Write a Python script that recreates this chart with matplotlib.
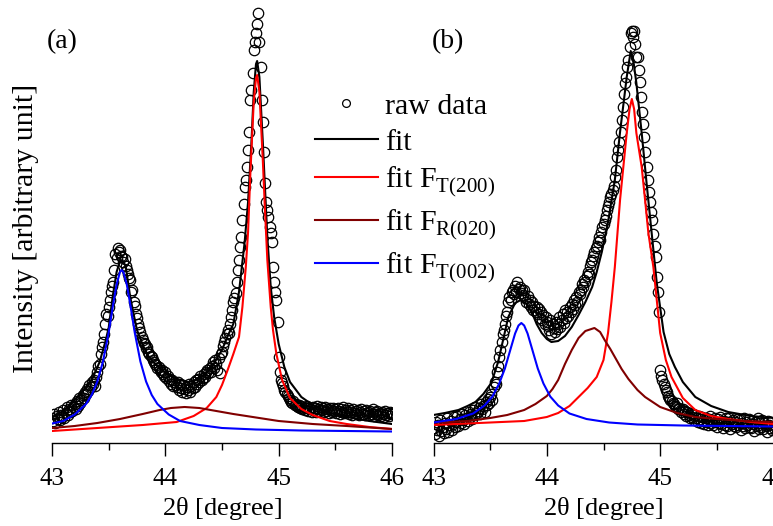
import numpy as np
import matplotlib.pyplot as plt
from matplotlib.ticker import MultipleLocator

plt.rcParams['font.family'] = 'Liberation Serif'
plt.rcParams['mathtext.fontset'] = 'custom'
plt.rcParams['mathtext.rm'] = 'Liberation Serif'

# XRD scan: 2theta from 43 to 46 deg, 0.01 deg step (intensity in arbitrary units)
theta_start = 43.0
theta_step = 0.01

raw_a = [
    24, 21, 28, 19, 26, 23, 30, 22, 27, 25,
    32, 24, 29, 35, 27, 33, 30, 37, 31, 35,
    38, 33, 41, 36, 44, 39, 42, 47, 44, 50,
    48, 53, 51, 57, 55, 60, 58, 62, 56, 65,
    70, 76, 78, 88, 95, 100, 108, 118, 128, 126,
    135, 142, 150, 156, 160, 172, 188, 184, 194, 190,
    192, 186, 185, 180, 183, 176, 172, 168, 164, 162,
    150, 152, 140, 136, 128, 124, 118, 114, 110, 105,
    102, 99, 98, 94, 95, 90, 88, 86, 85, 82,
    80, 78, 77, 74, 75, 72, 70, 72, 68, 66,
    70, 64, 66, 61, 63, 58, 62, 56, 60, 57,
    55, 60, 52, 58, 54, 50, 57, 53, 49, 55,
    52, 58, 50, 56, 54, 60, 55, 62, 58, 63,
    60, 66, 62, 64, 68, 65, 70, 72, 69, 74,
    70, 76, 80, 74, 82, 78, 72, 84, 69, 88,
    90, 96, 100, 104, 108, 112, 109, 118, 125, 132,
    140, 144, 149, 160, 172, 182, 195, 205, 222, 238,
    255, 262, 275, 292, 310, 342, 352, 369, 392, 400,
    409, 418, 429, 400, 375, 342, 320, 290, 259, 240,
    232, 225, 215, 209, 200, 175, 160, 150, 142, 120,
    85, 70, 62, 59, 56, 52, 50, 48, 46, 44,
    42, 40, 39, 41, 37, 38, 36, 35, 37, 34,
    36, 33, 35, 32, 34, 36, 31, 34, 33, 30,
    35, 32, 34, 30, 36, 33, 31, 35, 32, 34,
    30, 35, 31, 33, 29, 34, 32, 30, 34, 31,
    33, 29, 34, 31, 28, 33, 30, 35, 29, 32,
    30, 34, 28, 32, 30, 27, 33, 29, 31, 28,
    32, 27, 30, 33, 28, 31, 27, 32, 29, 30,
    27, 31, 28, 33, 26, 30, 28, 31, 27, 29,
    26, 30, 28, 25, 31, 27, 29, 26, 30, 28,
    29,
]

raw_b = [
    14, 8, 20, 12, 17, 6, 22, 11, 15, 9,
    19, 13, 24, 10, 17, 21, 12, 18, 25, 15,
    20, 26, 16, 23, 19, 28, 22, 18, 27, 24,
    21, 30, 25, 28, 23, 32, 27, 35, 29, 31,
    34, 28, 38, 33, 36, 30, 40, 37, 43, 39,
    45, 48, 42, 55, 60, 58, 70, 76, 85, 92,
    100, 108, 112, 118, 126, 130, 140, 145, 142, 150,
    152, 148, 156, 150, 160, 153, 155, 149, 152, 147,
    152, 144, 140, 146, 138, 142, 135, 140, 132, 136,
    130, 135, 128, 133, 124, 130, 122, 127, 118, 125,
    120, 116, 112, 122, 108, 118, 114, 110, 120, 113,
    118, 125, 115, 122, 128, 119, 132, 124, 130, 126,
    135, 130, 138, 133, 142, 137, 145, 140, 150, 148,
    152, 158, 155, 162, 160, 166, 170, 168, 176, 180,
    182, 186, 190, 194, 196, 200, 205, 202, 210, 215,
    218, 222, 226, 232, 236, 240, 245, 248, 252, 256,
    265, 272, 285, 292, 300, 310, 322, 335, 348, 359,
    365, 375, 382, 395, 409, 411, 405, 411, 398, 385,
    385, 372, 360, 345, 330, 318, 305, 290, 275, 262,
    250, 240, 230, 222, 208, 196, 185, 165, 150, 130,
    72, 66, 62, 58, 55, 52, 50, 46, 44, 42,
    41, 39, 38, 36, 35, 39, 33, 34, 30, 32,
    33, 28, 31, 26, 30, 27, 24, 29, 25, 28,
    22, 27, 24, 20, 26, 23, 19, 25, 21, 18,
    24, 20, 17, 23, 26, 19, 22, 17, 24, 20,
    15, 23, 19, 25, 18, 14, 21, 17, 24, 16,
    20, 24, 13, 18, 22, 16, 20, 15, 23, 17,
    22, 12, 19, 16, 24, 14, 20, 17, 23, 15,
    14, 21, 18, 11, 20, 16, 24, 13, 19, 15,
    22, 13, 19, 16, 10, 21, 17, 14, 20, 12,
    14,
]

# fitted profiles, sample a
fit_a_x = [43.0, 43.1, 43.17, 43.25, 43.35, 43.42, 43.47, 43.5, 43.535, 43.57,
           43.6, 43.62, 43.65, 43.69, 43.72, 43.75, 43.8, 43.85, 43.91, 44.0,
           44.1, 44.2, 44.3, 44.4, 44.5, 44.55, 44.6, 44.65, 44.7, 44.73,
           44.76, 44.78, 44.80, 44.81, 44.83, 44.86, 44.9, 44.93, 44.96, 45.0,
           45.05, 45.1, 45.2, 45.3, 45.45, 45.6, 45.8, 46.0]
fit_a_y = [25, 31, 39, 48, 62, 80, 100, 114, 145, 170,
           181, 182, 176, 145, 128, 112, 97, 86, 78, 69,
           63, 60, 63, 73, 92, 106, 118, 150, 200, 240,
           300, 350, 378, 381, 365, 300, 205, 155, 125, 98,
           75, 60, 45, 37, 29, 25, 21, 18]

t200_a_x = [43.0, 43.4, 43.8, 44.1, 44.25, 44.365, 44.45, 44.5, 44.55, 44.6,
            44.65, 44.68, 44.71, 44.73, 44.75, 44.78, 44.80, 44.81, 44.83, 44.86,
            44.88, 44.9, 44.93, 44.95, 44.98, 45.03, 45.1, 45.2, 45.3, 45.45,
            45.6, 45.8, 46.0]
t200_a_y = [11, 14, 17, 20, 26, 34, 45, 57, 72, 88,
            105, 135, 175, 210, 268, 340, 364, 367, 350, 282,
            230, 182, 135, 112, 88, 62, 44, 33, 27, 21,
            18, 15, 13]

r020_a_x = [43.0, 43.2, 43.4, 43.6, 43.8, 43.95, 44.05, 44.17, 44.3, 44.45,
            44.6, 44.8, 45.0, 45.3, 45.6, 46.0]
r020_a_y = [14, 16, 19, 23, 28, 32, 34, 35, 34, 31,
            28, 24.5, 21, 18, 16, 13]

t002_a_x = [43.0, 43.1, 43.2, 43.3, 43.35, 43.4, 43.45, 43.5, 43.54, 43.57,
            43.6, 43.615, 43.63, 43.66, 43.69, 43.73, 43.78, 43.83, 43.88, 43.93,
            44.03, 44.13, 44.3, 44.5, 44.8, 45.2, 45.6, 46.0]
t002_a_y = [18.5, 21, 27.5, 38, 47, 60.5, 80.5, 109.5, 138, 157.5,
            170, 172, 170, 157.5, 138, 109.5, 80.5, 60.5, 47, 38,
            27.5, 21, 17, 14, 12.5, 11.5, 11, 10.5]

# fitted profiles, sample b
fit_b_x = [43.0, 43.1, 43.22, 43.3, 43.37, 43.44, 43.51, 43.57, 43.62, 43.66,
           43.72, 43.77, 43.82, 43.87, 43.91, 43.955, 44.0, 44.04, 44.1, 44.16,
           44.22, 44.28, 44.34, 44.4, 44.44, 44.485, 44.54, 44.6, 44.646, 44.675,
           44.705, 44.74, 44.765, 44.79, 44.837, 44.88, 44.925, 44.97, 45.03, 45.08,
           45.13, 45.2, 45.31, 45.45, 45.6, 45.8, 46.0]
fit_b_y = [27, 29, 32, 36, 40, 48, 59, 80, 105, 125,
           139, 142, 138, 129, 118, 109, 103, 100, 101, 106,
           115, 127, 140, 155, 170, 190, 220, 262, 310, 337,
           365, 391, 380, 359, 309, 259, 209, 159, 110, 88,
           75, 60, 45, 36, 30, 26, 24]

t200_b_x = [43.0, 43.4, 43.8, 44.0, 44.1, 44.2, 44.28, 44.36, 44.44, 44.5,
            44.54, 44.57, 44.6, 44.646, 44.675, 44.705, 44.73, 44.75, 44.77, 44.79,
            44.837, 44.867, 44.896, 44.94, 44.97, 45.0, 45.05, 45.1, 45.2, 45.31,
            45.45, 45.6, 45.8, 46.0]
t200_b_y = [17, 19, 21, 25, 29, 36, 45, 54, 65, 82,
            109, 140, 175, 242, 275, 309, 333, 343, 333, 309,
            275, 242, 209, 175, 142, 109, 82, 65, 44, 32,
            26, 23, 20, 18]

r020_b_x = [43.0, 43.3, 43.5, 43.65, 43.8, 43.9, 44.0, 44.05, 44.1, 44.16,
            44.22, 44.28, 44.34, 44.42, 44.47, 44.51, 44.56, 44.6, 44.66, 44.72,
            44.8, 44.867, 45.0, 45.15, 45.31, 45.5, 45.75, 46.0]
r020_b_y = [19, 21, 24, 27, 32, 38, 46, 53, 62, 78,
            92, 104, 111, 114, 110, 102, 93, 85, 73, 63,
            52, 45, 35, 29, 25, 23, 21, 20]

t002_b_x = [43.0, 43.2, 43.35, 43.45, 43.52, 43.58, 43.63, 43.68, 43.72, 43.75,
            43.775, 43.8, 43.83, 43.87, 43.92, 43.97, 44.03, 44.1, 44.2, 44.35,
            44.55, 44.8, 45.2, 45.6, 46.0]
t002_b_y = [19.5, 23, 28.5, 36.5, 45.5, 58.5, 73.5, 93, 108.5, 116.5,
            119, 116.5, 108.5, 93, 73.5, 58.5, 45.5, 36.5, 28.5, 23,
            19.5, 17.5, 16.5, 16, 15.5]

panels = [
    ('(a)', raw_a, (fit_a_x, fit_a_y), (t200_a_x, t200_a_y), (r020_a_x, r020_a_y), (t002_a_x, t002_a_y)),
    ('(b)', raw_b, (fit_b_x, fit_b_y), (t200_b_x, t200_b_y), (r020_b_x, r020_b_y), (t002_b_x, t002_b_y)),
]

W, H = 773, 526
fig = plt.figure(figsize=(W / 100, H / 100), dpi=100)
ax_a = fig.add_axes([52 / W, 83 / H, 340 / W, 443 / H])
ax_b = fig.add_axes([433.5 / W, 83 / H, 340 / W, 443 / H])

for ax, (tag, raw, fit, t200, r020, t002) in zip([ax_a, ax_b], panels):
    theta = theta_start + theta_step * np.arange(len(raw))
    ax.plot(theta, raw, 'o', ms=7.5, mfc='none', mec='black', mew=0.9, label='raw data', zorder=2)
    ax.plot(*fit, color='black', lw=1.5, label='fit', zorder=3)
    ax.plot(*t200, color='#ff0000', lw=1.5, label=r'fit F$_{\mathrm{T(200)}}$', zorder=4)
    ax.plot(*r020, color='#800000', lw=1.5, label=r'fit F$_{\mathrm{R(020)}}$', zorder=4)
    ax.plot(*t002, color='#0000ff', lw=1.5, label=r'fit F$_{\mathrm{T(002)}}$', zorder=4)

    ax.set_xlim(43, 46)
    ax.set_ylim(-1, 442)
    ax.xaxis.set_major_locator(MultipleLocator(1))
    ax.xaxis.set_minor_locator(MultipleLocator(0.5))
    ax.set_yticks([])
    for side in ['left', 'right', 'top']:
        ax.spines[side].set_visible(False)
    ax.spines['bottom'].set_linewidth(1.0)
    ax.tick_params(axis='x', which='major', direction='out', length=9.5, width=1.0,
                   labelsize=18, pad=8.5)
    ax.tick_params(axis='x', which='minor', direction='out', length=5, width=1.0)
    ax.set_xlabel(r'2$\mathrm{\theta}$ [degree]', fontsize=19, labelpad=3.5)
    ax.text(0.0285 if tag == '(a)' else 0.041, 0.905, tag, transform=ax.transAxes,
            fontsize=20, ha='center', va='center')

ax_a.set_ylabel('Intensity [arbitrary unit]', fontsize=21.5, va='center')
ax_a.yaxis.set_label_coords(-0.077, 0.484)

handles, labels = ax_a.get_legend_handles_labels()
fig.legend(handles, labels, loc='upper left', bbox_to_anchor=(315 / W, 1 - 93 / H),
           frameon=False, fontsize=21.5, handlelength=2.1, handletextpad=0.25,
           labelspacing=0.3, borderpad=0, borderaxespad=0, markerscale=0.75)

fig.savefig('out.png', dpi=100)
